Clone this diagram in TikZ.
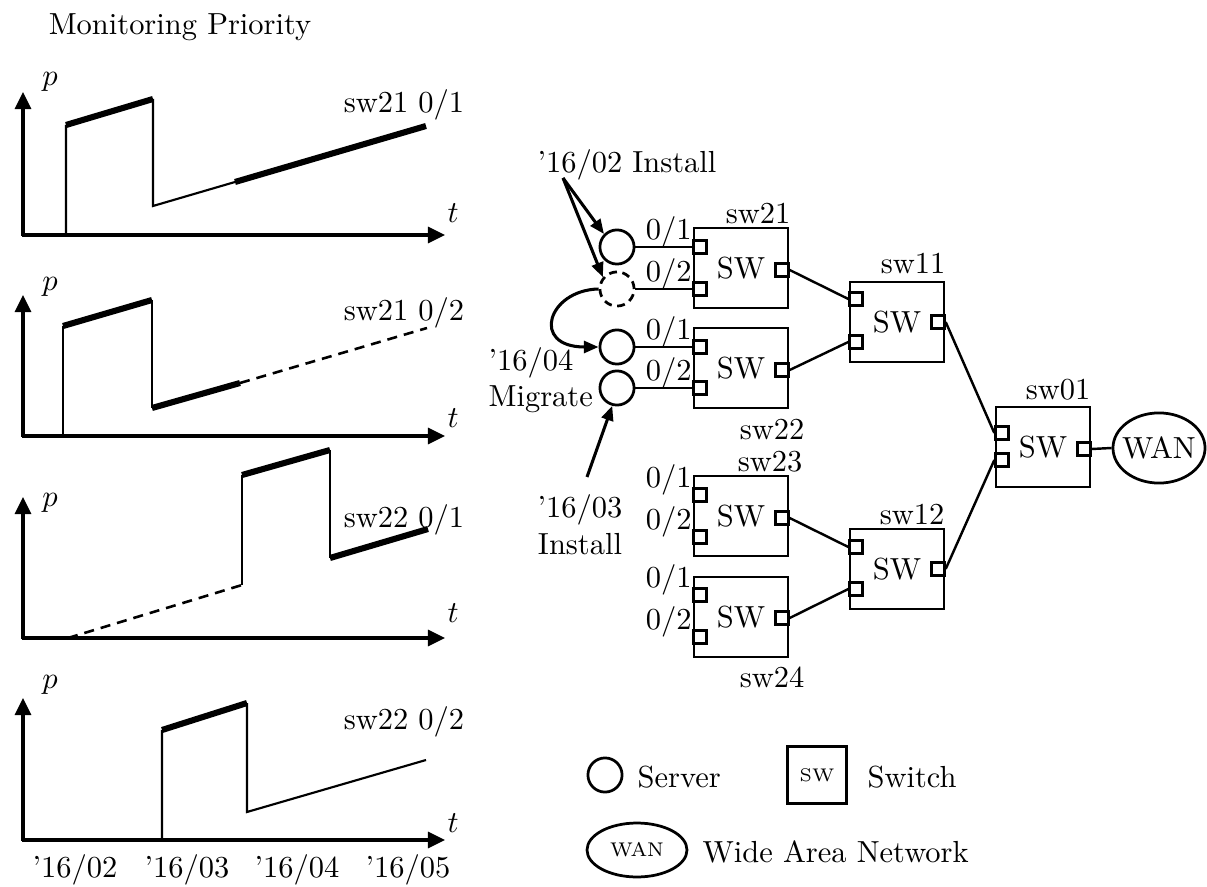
\documentclass[tikz,border=0pt]{standalone}
\usetikzlibrary{arrows.meta,calc,shapes.geometric}
\newcommand\swunit[6]{%
  \node[swbox] (#1) at (#2,#3) {SW};
  \node[port] (#1a) at ({#2-41},{#3+(#4)}) {};
  \node[port] (#1b) at ({#2-41},{#3+(#5)}) {};
  \node[port] (#1c) at ({#2+41},{#3+(#6)}) {};
}
\begin{document}
\begin{tikzpicture}[x=0.328pt,y=-0.328pt,
  axis/.style={line width=1.1pt,-{Triangle[length=5.6pt,width=5.2pt]}},
  curvethin/.style={line width=0.7pt},
  curvethick/.style={line width=2pt},
  curvedash/.style={line width=0.85pt,dash pattern=on 3.3pt off 2.3pt},
  swbox/.style={draw,line width=0.9pt,minimum width=30.8pt,minimum height=26.2pt,inner sep=0pt},
  port/.style={draw,line width=0.85pt,minimum size=4.2pt,inner sep=0pt,fill=white},
  server/.style={draw,circle,line width=0.9pt,minimum size=11.2pt,inner sep=0pt},
  link/.style={line width=0.8pt},
  callout/.style={line width=1pt,-{Triangle[length=4.8pt,width=3.9pt]}},
  plabel/.style={inner sep=0pt},
  portlabel/.style={anchor=south east,inner sep=0pt},
  txt/.style={anchor=west,inner sep=0pt},
]
\useasboundingbox (0,0) rectangle (1207,887);

\node (title) at (180,27) {Monitoring Priority};

% ---------- graph 1 : sw21 0/1
\draw[axis] (23,236) -- (23,92);
\draw[axis] (22,235) -- (445,235);
\node[plabel] (g1p) at (50,82) {$p$};
\node[plabel] (g1t) at (453,213) {$t$};
\node (g1l) at (404,105) {sw21 0/1};
\draw[curvethin] (66,235) -- (66,125) (153,99) -- (153,206) -- (235,182);
\draw[curvethick] (66,125) -- (153,99);
\draw[curvethick] (235,182) -- (426,126);

% ---------- graph 2 : sw21 0/2
\draw[axis] (23,437) -- (23,295);
\draw[axis] (22,436) -- (445,436);
\node[plabel] (g2p) at (50,287) {$p$};
\node[plabel] (g2t) at (453,418) {$t$};
\node (g2l) at (404,313) {sw21 0/2};
\draw[curvethin] (63,436) -- (63,326) (152,300) -- (152,408);
\draw[curvethick] (63,326) -- (152,300);
\draw[curvethick] (152,408) -- (240,383);
\draw[curvedash] (240,383) -- (427,328);

% ---------- graph 3 : sw22 0/1
\draw[axis] (23,639) -- (23,497);
\draw[axis] (22,638) -- (445,638);
\node[plabel] (g3p) at (50,503) {$p$};
\node[plabel] (g3t) at (453,613) {$t$};
\node (g3l) at (404,520) {sw22 0/1};
\draw[curvedash] (68,638) -- (242,585);
\draw[curvethin] (242,585) -- (242,475) (330,450) -- (330,558);
\draw[curvethick] (242,475) -- (330,450);
\draw[curvethick] (330,558) -- (428,529);

% ---------- graph 4 : sw22 0/2
\draw[axis] (23,841) -- (23,698);
\draw[axis] (22,840) -- (445,840);
\node[plabel] (g4p) at (50,685) {$p$};
\node[plabel] (g4t) at (453,823) {$t$};
\node (g4l) at (404,722) {sw22 0/2};
\draw[curvethin] (162,840) -- (162,730) (247,703) -- (247,812) -- (426,760);
\draw[curvethick] (162,730) -- (247,703);

\node (d2) at (75,870) {'16/02};
\node (d3) at (187,870) {'16/03};
\node (d4) at (297,870) {'16/04};
\node (d5) at (408,870) {'16/05};

% ---------- network
\swunit{sw21}{741}{268}{-21}{21}{2}
\swunit{sw22}{741}{368}{-21}{20}{2}
\swunit{sw23}{741}{516}{-21}{21}{2}
\swunit{sw24}{741}{617}{-22}{20}{1}
\swunit{sw11}{897}{322}{-23}{20}{0}
\swunit{sw12}{897}{569}{-22}{20}{0}
\swunit{sw01}{1043}{447}{-14}{13}{2}

\node (l21) at (758,214) {sw21};
\node (l22) at (772,430) {sw22};
\node (l23) at (770,462) {sw23};
\node (l24) at (772,677) {sw24};
\node (l11) at (913,264) {sw11};
\node (l12) at (912,515) {sw12};
\node (l01) at (1058,390) {sw01};

\node[portlabel] (n21a) at ($(sw21a.west)+(0,1)$) {0/1};
\node[portlabel] (n21b) at ($(sw21b.west)+(0,1)$) {0/2};
\node[portlabel] (n22a) at ($(sw22a.west)+(0,1)$) {0/1};
\node[portlabel] (n22b) at ($(sw22b.west)+(0,1)$) {0/2};
\node[portlabel] (n23a) at ($(sw23a.west)+(0,1)$) {0/1};
\node[portlabel] (n23b) at ($(sw23b.west)+(0,1)$) {0/2};
\node[portlabel] (n24a) at ($(sw24a.west)+(0,1)$) {0/1};
\node[portlabel] (n24b) at ($(sw24b.west)+(0,1)$) {0/2};

\node[server] (s1) at (617,247) {};
\node[server,dash pattern=on 2.6pt off 1.8pt] (s2) at (617,289) {};
\node[server] (s3) at (617,347) {};
\node[server] (s4) at (617,388) {};

\node[draw,ellipse,line width=0.9pt,minimum width=30.2pt,minimum height=23pt,inner sep=0pt] (wan) at (1159,448) {};
\node (wantext) at (wan) {WAN};

\draw[link] (s1.east) -- (sw21a.west);
\draw[link] (s2.east) -- (sw21b.west);
\draw[link] (s3.east) -- (sw22a.west);
\draw[link] (s4.east) -- (sw22b.west);
\draw[link] (sw21c.east) -- (sw11a.west);
\draw[link] (sw22c.east) -- (sw11b.west);
\draw[link] (sw23c.east) -- (sw12a.west);
\draw[link] (sw24c.east) -- (sw12b.west);
\draw[link] (sw11c.east) -- (sw01a.west);
\draw[link] (sw12c.east) -- (sw01b.west);
\draw[link] (sw01c.east) -- (wan.west);

% callouts
\node (inst2) at (627,165) {'16/02 Install};
\coordinate (i2s) at (563,178);
\draw[callout] (i2s) -- (s1.135);
\draw[callout] (i2s) -- (s2.140);
\draw[callout] (s2.west) .. controls (548,290) and (530,347) .. (s3.west);
\node[align=left,anchor=west,inner sep=0pt] (mig) at (488,380) {'16/04\\Migrate};
\node[align=center] (inst3) at (580,525) {'16/03\\Install};
\coordinate (i3s) at (587,477);
\draw[callout] (i3s) -- (s4.255);

% legend
\node[server] (ls) at (605,775) {};
\node[txt] (lst) at (637,777) {Server};
\node[draw,line width=0.9pt,minimum width=19.4pt,minimum height=18.7pt,inner sep=0pt,font=\fontsize{6}{7}\selectfont] (lsw) at (817,775) {SW};
\node[txt] (lswt) at (867,777) {Switch};
\node[draw,ellipse,line width=0.9pt,minimum width=32.8pt,minimum height=17.7pt,inner sep=0pt] (lwan) at (637,850) {};
\node[font=\fontsize{6.5}{7}\selectfont] (lwantext) at (lwan) {WAN};
\node[txt] (lwant) at (702,852) {Wide Area Network};
\end{tikzpicture}
\end{document}
